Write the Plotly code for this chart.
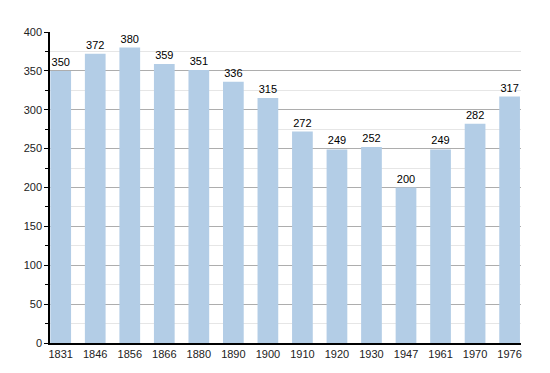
import plotly.graph_objects as go

years = ["1831", "1846", "1856", "1866", "1880", "1890", "1900", "1910", "1920", "1930", "1947", "1961", "1970", "1976"]
population = [350, 372, 380, 359, 351, 336, 315, 272, 249, 252, 200, 249, 282, 317]
y_ticks = [0, 50, 100, 150, 200, 250, 300, 350, 400]

fig = go.Figure(go.Bar(
    x=list(range(len(years))),
    y=population,
    width=0.6,
    marker=dict(color="#b3cde6", line=dict(width=0)),
    text=[str(v) for v in population],
    textposition="outside",
    cliponaxis=False,
    textfont=dict(family="Liberation Sans, Arial, sans-serif", size=11, color="#000000"),
))

fig.update_layout(
    width=550, height=373,
    margin=dict(l=42, r=37, t=24, b=38),
    paper_bgcolor="white", plot_bgcolor="white",
    showlegend=False,
    font=dict(family="Liberation Sans, Arial, sans-serif", size=11, color="#222222"),
    xaxis=dict(
        tickmode="array", tickvals=list(range(len(years))), ticktext=years,
        range=[-0.31, 13.33], showgrid=False, zeroline=False,
        showline=True, linecolor="black", linewidth=1.5, ticks="", ticklen=0,
    ),
    yaxis=dict(
        range=[0, 400], tickmode="array", tickvals=y_ticks,
        showgrid=True, gridcolor="#adadad", gridwidth=1,
        showline=True, linecolor="black", linewidth=1.5,
        ticks="outside", ticklen=4, tickcolor="black", zeroline=False,
        minor=dict(dtick=25, showgrid=True, gridcolor="#e6e6e6", ticks="outside", ticklen=3, tickcolor="black"),
    ),
    bargap=0.4,
)

fig.write_html("out.html")
